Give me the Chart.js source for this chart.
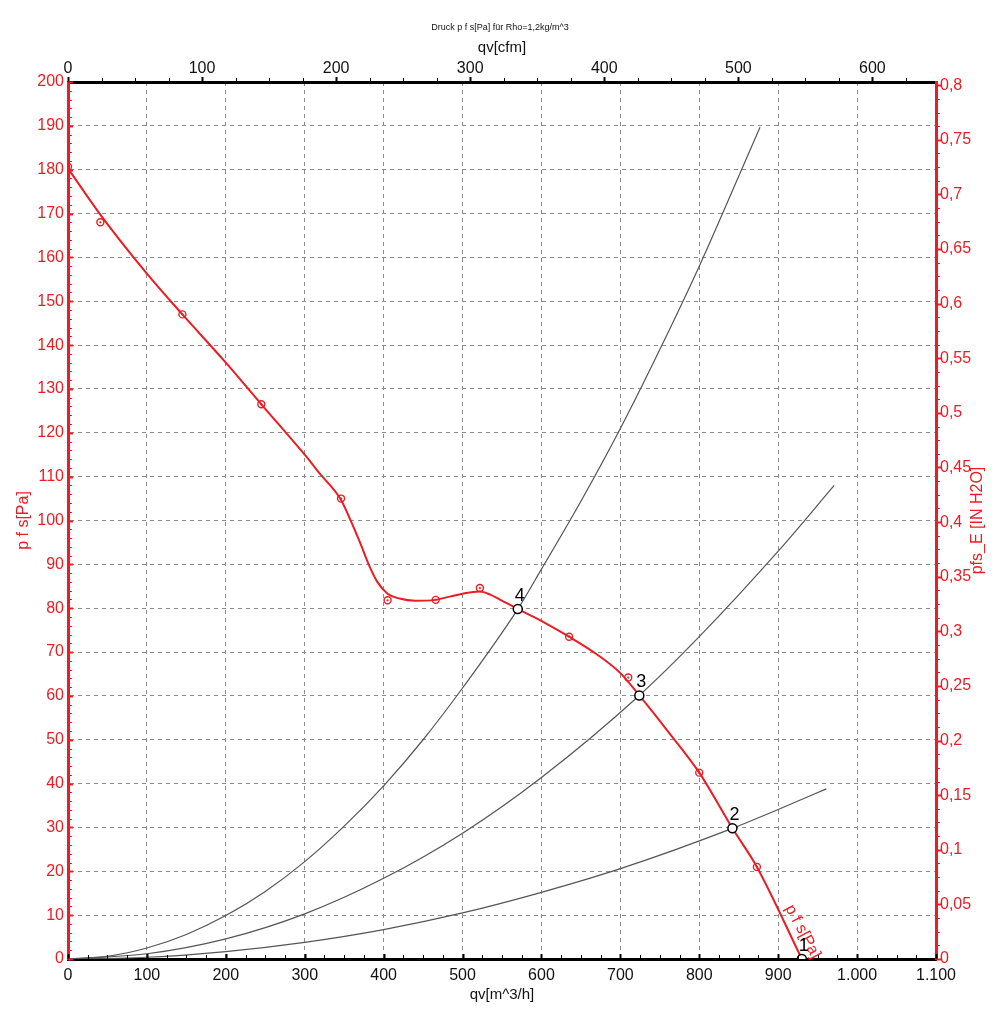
<!DOCTYPE html>
<html>
<head>
<meta charset="utf-8">
<title>Kennlinie p f s</title>
<script src="https://cdn.jsdelivr.net/npm/chart.js@4.4.1/dist/chart.umd.min.js"></script>
<style>
  html, body { margin: 0; padding: 0; background: #fff; }
  #wrap { position: relative; width: 998px; height: 1024px; }
</style>
</head>
<body>
<div id="wrap"><canvas id="kennlinie"></canvas></div>
<script>
// Ventilatorkennlinie (geglaettet), qv in m^3/h, p f s in Pa
const kurveQ = [0, 40, 100, 145, 200, 245, 300, 320, 345, 357, 370, 381, 392, 405, 420, 440, 465, 485, 500, 522, 535, 548, 570, 598, 635, 670, 700, 724, 759, 800, 842, 873, 930];
const kurveP = [180.3, 170, 156.3, 147, 136, 126.5, 115, 110.5, 105, 100.5, 95, 90, 86, 83.3, 82.2, 81.7, 81.9, 82.7, 83.3, 83.8, 83.1, 81.9, 79.8, 77.3, 73.5, 69.5, 65.2, 60.1, 52.2, 42.5, 29.8, 21, 0];

// Messpunkte
const messQ = [0, 41, 145, 245, 346, 405, 466, 522, 635, 710, 800, 873];
const messP = [180.7, 168, 147, 126.5, 105, 81.8, 81.9, 84.6, 73.5, 64.2, 42.5, 21];

// Anlagenkennlinien
const anlageAQ = [0, 50, 100, 150, 200, 250, 300, 350, 400, 450, 500, 570, 600, 650, 700, 750, 800, 850, 877];
const anlageAP = [0, 0.6, 2.5, 5.6, 9.9, 15.4, 22.2, 30.3, 39.5, 50, 61.8, 79.8, 88.9, 104.4, 121, 139, 158, 178.5, 189.7];
const anlageBQ = [0, 100, 200, 300, 400, 500, 600, 724, 800, 900, 971];
const anlageBP = [0, 1.2, 4.6, 10.3, 18.4, 28.7, 41.4, 60.1, 73.5, 93, 108];
const anlageCQ = [0, 100, 200, 300, 400, 500, 600, 700, 842, 900, 961];
const anlageCP = [0, 0.4, 1.7, 3.8, 6.7, 10.5, 15.2, 20.6, 29.8, 34.1, 38.8];

// Betriebspunkte
const bpQ = [930, 842, 724, 570];
const bpP = [0, 29.8, 60.1, 79.8];
const bpText = ['1', '2', '3', '4'];

// Achsenteilung
const ticksQ = [0, 100, 200, 300, 400, 500, 600, 700, 800, 900, 1000, 1100];
const ticksCfm = [0, 100, 200, 300, 400, 500, 600];
const ticksPa = [0, 10, 20, 30, 40, 50, 60, 70, 80, 90, 100, 110, 120, 130, 140, 150, 160, 170, 180, 190, 200];
const ticksInH2O = [0, 0.05, 0.1, 0.15, 0.2, 0.25, 0.3, 0.35, 0.4, 0.45, 0.5, 0.55, 0.6, 0.65, 0.7, 0.75, 0.8];

const M3H_PRO_CFM = 1.69901;
const PA_PRO_INH2O = 249.089;

const ROT = '#ec1c24';
const GRAU = '#555555';
const RASTER = '#8c8c8c';
const SCHRIFT = '"Liberation Sans", Arial, sans-serif';

const zuPunkte = (qs, ps) => qs.map((q, i) => ({ x: q, y: ps[i] }));
const deTausend = v => String(v).replace(/\B(?=(\d{3})+(?!\d))/g, '.');
const deKomma = v => String(Math.round(v * 100) / 100).replace('.', ',');

function setzeTicks(werte) {
    return function (scale) {
        scale.ticks = werte.map(v => ({ value: v }));
    };
}

function rasterFarbe(min, max) {
    return function (ctx) {
        if (!ctx.tick) {
            return RASTER;
        }
        const v = ctx.tick.value;
        return (Math.abs(v - min) < 1e-6 || Math.abs(v - max) < 1e-6) ? 'rgba(0,0,0,0)' : RASTER;
    };
}

// Teilstriche, Beschriftungen, die nicht ueber Chart.js-Optionen gehen
const zusatz = {
    id: 'zusatz',
    afterDraw(chart) {
        const { ctx, chartArea: a, scales } = chart;
        ctx.save();

        function strich(x1, y1, x2, y2, farbe, breite) {
            ctx.beginPath();
            ctx.strokeStyle = farbe;
            ctx.lineWidth = breite;
            ctx.moveTo(x1, y1);
            ctx.lineTo(x2, y2);
            ctx.stroke();
        }

        // unten: m^3/h, alle 25
        for (let i = 0; i <= 44; i++) {
            const x = Math.round(scales.x.getPixelForValue(i * 25)) + 0.5;
            const gross = i % 4 === 0;
            strich(x, a.bottom, x, a.bottom - (gross ? 5 : 4), '#000', gross ? 2 : 1);
        }
        // oben: cfm, alle 25
        for (let i = 0; i <= 25; i++) {
            const x = Math.round(scales.x2.getPixelForValue(i * 25)) + 0.5;
            const gross = i % 4 === 0;
            strich(x, a.top, x, a.top - (gross ? 5 : 4), '#000', gross ? 2 : 1);
        }
        // links: Pa, alle 2
        for (let i = 0; i <= 100; i++) {
            const y = Math.round(scales.y.getPixelForValue(i * 2)) + 0.5;
            const gross = i % 5 === 0;
            strich(a.left, y, a.left + (gross ? 5 : 4), y, ROT, gross ? 2 : 1);
        }
        // rechts: in H2O, alle 0,0125
        for (let i = 0; i <= 64; i++) {
            const y = Math.round(scales.y2.getPixelForValue(i * 0.0125)) + 0.5;
            const gross = i % 4 === 0;
            strich(a.right, y, a.right + (gross ? 5 : 4), y, ROT, gross ? 2 : 1);
        }

        // Ueberschrift
        ctx.fillStyle = '#111';
        ctx.font = '9px ' + SCHRIFT;
        ctx.textAlign = 'center';
        ctx.textBaseline = 'middle';
        ctx.fillText('Druck p f s[Pa] für Rho=1,2kg/m^3', 500, 28);

        // rechte Achsenbeschriftung, von unten nach oben
        ctx.save();
        ctx.translate(978, (a.top + a.bottom) / 2);
        ctx.rotate(-Math.PI / 2);
        ctx.fillStyle = ROT;
        ctx.font = '16px ' + SCHRIFT;
        ctx.fillText('pfs_E [IN H2O]', 0, 0);
        ctx.restore();

        // Kurvenname an der Kennlinie
        ctx.save();
        ctx.translate(scales.x.getPixelForValue(931), scales.y.getPixelForValue(6.2));
        ctx.rotate(62 * Math.PI / 180);
        ctx.fillStyle = ROT;
        ctx.font = '16px ' + SCHRIFT;
        ctx.fillText('p f s[Pa]', 0, 0);
        ctx.restore();

        // Nummern der Betriebspunkte
        ctx.fillStyle = '#000';
        ctx.font = '18px ' + SCHRIFT;
        bpQ.forEach(function (q, i) {
            const x = scales.x.getPixelForValue(q);
            const y = scales.y.getPixelForValue(bpP[i]);
            ctx.fillText(bpText[i], x + 2, y - 13);
        });

        ctx.restore();
    }
};

const canvas = document.getElementById('kennlinie');

new Chart(canvas, {
    type: 'scatter',
    data: {
        datasets: [
            {
                label: 'Betriebspunkte',
                data: zuPunkte(bpQ, bpP),
                pointRadius: 4.5,
                borderWidth: 1.5,
                borderColor: '#000',
                backgroundColor: '#fff',
                order: 0
            },
            {
                label: 'Messpunkte Ring',
                data: zuPunkte(messQ, messP),
                pointRadius: 3.5,
                borderWidth: 1.4,
                borderColor: ROT,
                backgroundColor: 'rgba(255,255,255,0)',
                order: 1
            },
            {
                label: 'Messpunkte Mitte',
                data: zuPunkte(messQ, messP),
                pointRadius: 1.1,
                borderWidth: 0,
                backgroundColor: ROT,
                order: 1
            },
            {
                label: 'p f s[Pa]',
                data: zuPunkte(kurveQ, kurveP),
                showLine: true,
                pointRadius: 0,
                borderColor: ROT,
                borderWidth: 2,
                cubicInterpolationMode: 'monotone',
                order: 2
            },
            {
                label: 'Anlage A',
                data: zuPunkte(anlageAQ, anlageAP),
                showLine: true,
                pointRadius: 0,
                borderColor: GRAU,
                borderWidth: 1.2,
                cubicInterpolationMode: 'monotone',
                order: 3
            },
            {
                label: 'Anlage B',
                data: zuPunkte(anlageBQ, anlageBP),
                showLine: true,
                pointRadius: 0,
                borderColor: GRAU,
                borderWidth: 1.2,
                cubicInterpolationMode: 'monotone',
                order: 3
            },
            {
                label: 'Anlage C',
                data: zuPunkte(anlageCQ, anlageCP),
                showLine: true,
                pointRadius: 0,
                borderColor: GRAU,
                borderWidth: 1.2,
                cubicInterpolationMode: 'monotone',
                order: 3
            }
        ]
    },
    options: {
        responsive: true,
        maintainAspectRatio: false,
        devicePixelRatio: 1,
        animation: false,
        layout: { padding: 0 },
        plugins: {
            legend: { display: false },
            tooltip: { enabled: false },
            title: { display: false }
        },
        scales: {
            x: {
                type: 'linear',
                position: 'bottom',
                min: 0,
                max: 1100,
                afterBuildTicks: setzeTicks(ticksQ),
                afterFit: function (s) { s.height = 65; },
                ticks: {
                    callback: v => deTausend(v),
                    color: '#111',
                    font: { family: SCHRIFT, size: 16 },
                    padding: 7,
                    maxRotation: 0,
                    autoSkip: false
                },
                grid: { color: rasterFarbe(0, 1100), lineWidth: 1, drawTicks: false },
                border: { color: '#000', width: 3, dash: [4, 4] },
                title: {
                    display: true,
                    text: 'qv[m^3/h]',
                    color: '#111',
                    font: { family: SCHRIFT, size: 15 },
                    padding: { top: 0, bottom: 20 }
                }
            },
            x2: {
                type: 'linear',
                position: 'top',
                min: 0,
                max: 1100 / M3H_PRO_CFM,
                afterBuildTicks: setzeTicks(ticksCfm),
                afterFit: function (s) { s.height = 82; },
                ticks: {
                    color: '#111',
                    font: { family: SCHRIFT, size: 16 },
                    padding: 4,
                    maxRotation: 0,
                    autoSkip: false
                },
                grid: { drawOnChartArea: false, drawTicks: false },
                border: { color: '#000', width: 3 },
                title: {
                    display: true,
                    text: 'qv[cfm]',
                    color: '#111',
                    font: { family: SCHRIFT, size: 15 },
                    padding: { top: 39, bottom: 0 }
                }
            },
            y: {
                type: 'linear',
                position: 'left',
                min: 0,
                max: 200,
                afterBuildTicks: setzeTicks(ticksPa),
                afterFit: function (s) { s.width = 68; },
                ticks: {
                    color: ROT,
                    font: { family: SCHRIFT, size: 16 },
                    padding: 4,
                    autoSkip: false
                },
                grid: { color: rasterFarbe(0, 200), lineWidth: 1, drawTicks: false },
                border: { color: ROT, width: 3, dash: [4, 4] },
                title: {
                    display: true,
                    text: 'p f s[Pa]',
                    color: ROT,
                    font: { family: SCHRIFT, size: 16 },
                    padding: { top: 14, bottom: 0 }
                }
            },
            y2: {
                type: 'linear',
                position: 'right',
                min: 0,
                max: 200 / PA_PRO_INH2O,
                afterBuildTicks: setzeTicks(ticksInH2O),
                afterFit: function (s) { s.width = 62; },
                ticks: {
                    callback: v => deKomma(v),
                    color: ROT,
                    font: { family: SCHRIFT, size: 16 },
                    padding: 4,
                    autoSkip: false
                },
                grid: { drawOnChartArea: false, drawTicks: false },
                border: { color: ROT, width: 3 }
            }
        }
    },
    plugins: [zusatz]
});
</script>
</body>
</html>
